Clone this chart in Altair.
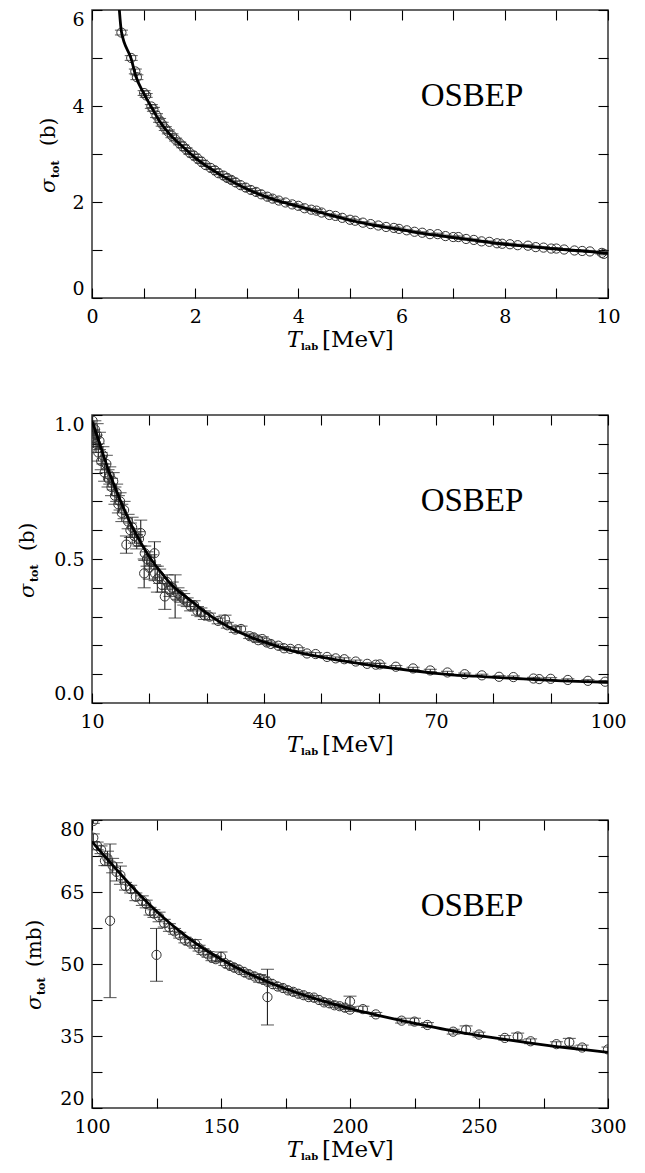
import altair as alt
import pandas as pd

# ---------------- data ----------------
# Panel 1 : 0-10 MeV, sigma in b
p1_x = [0.57, 0.76, 0.84, 0.87, 1.01, 1.05, 1.15, 1.19, 1.25, 1.31, 1.36, 1.42, 1.48, 1.55,
        1.62, 1.70, 1.76, 1.82, 1.90, 1.97, 2.05, 2.12, 2.20, 2.30, 2.38, 2.45, 2.55, 2.62,
        2.70, 2.78, 2.88, 2.98, 3.08, 3.18, 3.28, 3.40, 3.50, 3.62, 3.75, 3.88, 4.00, 4.12,
        4.25, 4.35, 4.45, 4.60, 4.72, 4.85, 5.00, 5.10, 5.25, 5.40, 5.55, 5.70, 5.85, 5.95,
        6.10, 6.25, 6.40, 6.55, 6.70, 6.85, 7.00, 7.10, 7.25, 7.40, 7.55, 7.70, 7.85, 7.95,
        8.10, 8.25, 8.45, 8.60, 8.75, 8.90, 9.00, 9.15, 9.35, 9.50, 9.65, 9.88, 9.92]
p1_y = [5.53, 5.00, 4.72, 4.60, 4.27, 4.22, 3.99, 3.93, 3.80, 3.70, 3.62, 3.53, 3.46, 3.38,
        3.30, 3.22, 3.16, 3.10, 3.02, 2.97, 2.90, 2.84, 2.77, 2.71, 2.66, 2.60, 2.55, 2.50,
        2.46, 2.41, 2.35, 2.30, 2.25, 2.21, 2.16, 2.11, 2.07, 2.03, 1.99, 1.95, 1.92, 1.87,
        1.84, 1.82, 1.78, 1.73, 1.71, 1.67, 1.63, 1.61, 1.57, 1.54, 1.51, 1.48, 1.46, 1.44,
        1.41, 1.38, 1.36, 1.33, 1.33, 1.29, 1.27, 1.27, 1.23, 1.21, 1.18, 1.17, 1.14, 1.13,
        1.12, 1.10, 1.09, 1.06, 1.05, 1.03, 1.03, 1.01, 0.99, 0.98, 0.97, 0.94, 0.92]
p1_err = [0.05, 0.05, 0.05, 0.05, 0.05, 0.04, 0.04, 0.04, 0.04, 0.04, 0.04, 0.04, 0.04, 0.04,
          0.03, 0.03, 0.03, 0.03, 0.03, 0.03, 0.03, 0.03, 0.03, 0.03, 0.03, 0.03, 0.03, 0.03,
          0.03, 0.03, 0.03, 0.03, 0.03, 0.03, 0.03, 0.03, 0.03, 0.03, 0.02, 0.02, 0.02, 0.02,
          0.02, 0.02, 0.02, 0.02, 0.02, 0.02, 0.02, 0.02, 0.02, 0.02, 0.02, 0.02, 0.02, 0.02,
          0.02, 0.02, 0.02, 0.02, 0.02, 0.02, 0.02, 0.02, 0.02, 0.02, 0.02, 0.02, 0.02, 0.02,
          0.02, 0.02, 0.02, 0.02, 0.02, 0.02, 0.02, 0.02, 0.02, 0.02, 0.02, 0.02, 0.02]
c1_x = [0.53, 0.57, 0.76, 0.85, 1.0, 1.15, 1.3, 1.5, 1.75, 2.0, 2.5, 3.0, 3.5, 4.0, 4.5,
        5.0, 5.5, 6.0, 6.5, 7.0, 7.5, 8.0, 8.5, 9.0, 9.5, 10.0]
c1_y = [6.0, 5.55, 4.98, 4.62, 4.27, 3.98, 3.70, 3.42, 3.16, 2.92, 2.56, 2.27, 2.06, 1.91,
        1.76, 1.62, 1.51, 1.42, 1.33, 1.26, 1.19, 1.12, 1.07, 1.02, 0.98, 0.93]

# Panel 2 : 10-100 MeV, sigma in b
p2_x = [10.1, 10.3, 10.5, 10.7, 10.9, 11.1, 11.3, 11.6, 11.9, 12.2, 12.5, 12.8, 13.1, 13.4,
        13.7, 14.0, 14.3, 14.6, 14.9, 15.2, 15.6, 16.0, 16.3, 16.7, 17.0, 17.4, 17.8, 18.2,
        18.5, 19.1, 19.2, 19.6, 20.0, 20.3, 20.9, 21.0, 21.4, 21.8, 22.2, 22.7, 23.1, 23.6,
        24.0, 24.5, 25.0, 25.5, 26.0, 26.6, 27.2, 27.8, 28.4, 29.0, 29.6, 30.5, 32.0, 33.2,
        33.6, 35.0, 36.0, 37.5, 38.2, 39.0, 39.7, 40.5, 41.2, 42.5, 43.5, 44.6, 46.0, 47.5,
        49.0, 51.0, 52.5, 54.0, 56.0, 58.0, 59.5, 60.2, 63.0, 66.0, 69.0, 72.0, 75.0, 78.0,
        81.0, 83.5, 87.0, 88.0, 90.0, 93.0, 96.5, 99.5]
p2_y = [0.98, 0.92, 0.95, 0.90, 0.93, 0.87, 0.91, 0.84, 0.86, 0.80, 0.83, 0.78, 0.79, 0.75,
        0.77, 0.72, 0.73, 0.69, 0.70, 0.66, 0.67, 0.55, 0.63, 0.60, 0.61, 0.58, 0.56, 0.57,
        0.59, 0.45, 0.52, 0.50, 0.47, 0.49, 0.52, 0.45, 0.43, 0.44, 0.41, 0.37, 0.42, 0.39,
        0.40, 0.37, 0.38, 0.37, 0.36, 0.35, 0.335, 0.34, 0.32, 0.315, 0.305, 0.30, 0.285, 0.29,
        0.27, 0.255, 0.257, 0.232, 0.228, 0.218, 0.222, 0.21, 0.205, 0.199, 0.19, 0.188, 0.187,
        0.172, 0.17, 0.16, 0.155, 0.152, 0.144, 0.136, 0.133, 0.134, 0.126, 0.12, 0.113,
        0.106, 0.10, 0.096, 0.091, 0.09, 0.085, 0.083, 0.084, 0.08, 0.077, 0.074]
p2_err = [0.04, 0.03, 0.03, 0.03, 0.04, 0.03, 0.03, 0.03, 0.03, 0.03, 0.03, 0.03, 0.03, 0.03,
          0.03, 0.03, 0.03, 0.03, 0.03, 0.03, 0.03, 0.03, 0.025, 0.025, 0.035, 0.025, 0.025,
          0.025, 0.045, 0.05, 0.025, 0.025, 0.04, 0.025, 0.04, 0.025, 0.045, 0.025, 0.025,
          0.045, 0.025, 0.02, 0.02, 0.075, 0.02, 0.02, 0.02, 0.015, 0.015, 0.015, 0.015, 0.015,
          0.015, 0.012, 0.01, 0.015, 0.01, 0.01, 0.01, 0.008, 0.008, 0.008, 0.008, 0.006,
          0.006, 0.006, 0.006, 0.006, 0.005, 0.005, 0.005, 0.005, 0.005, 0.005, 0.005, 0.004,
          0.004, 0.004, 0.004, 0.004, 0.004, 0.004, 0.004, 0.004, 0.004, 0.004, 0.004, 0.004,
          0.004, 0.004, 0.004, 0.004]
c2_x = [10, 11, 12, 13, 14, 15, 16, 17, 18, 19, 20, 21, 22, 23, 24, 25, 26.6, 28, 30, 32, 34,
        36, 38, 40, 42, 44.6, 48, 51.7, 55, 58.9, 62, 66, 70, 73.3, 77, 80.4, 84, 87.6, 92,
        96, 100]
c2_y = [0.98, 0.92, 0.86, 0.80, 0.75, 0.70, 0.655, 0.612, 0.575, 0.54, 0.508, 0.48, 0.455,
        0.43, 0.408, 0.39, 0.365, 0.343, 0.312, 0.285, 0.262, 0.243, 0.226, 0.212, 0.199,
        0.183, 0.167, 0.153, 0.142, 0.130, 0.122, 0.112, 0.103, 0.097, 0.093, 0.089, 0.085,
        0.081, 0.077, 0.074, 0.072]

# Panel 3 : 100-300 MeV, sigma in mb
p3_x = [100.5, 100.5, 102, 103.5, 105, 106, 107, 108, 109.5, 111, 113, 115, 117, 119.5, 121,
        122.5, 124, 125, 126, 128, 130, 132, 134, 136, 138, 140, 141.5, 143, 145, 146.5, 148,
        150, 151.5, 153.5, 155, 157, 159, 161, 163, 165, 166.5, 168, 168, 170, 172, 174, 176,
        178, 180, 182, 184, 186, 188, 190, 192, 194, 196, 198, 200, 200, 205, 210, 220, 225,
        230, 240, 245, 250, 260, 265, 270, 280, 285, 290, 300]
p3_y = [79.8, 76.3, 74.6, 73.8, 71.5, 72.0, 59.0, 70.5, 69.2, 68.5, 66.2, 65.6, 64.0, 63.2,
        62.5, 61.0, 60.5, 51.9, 59.8, 58.5, 57.6, 56.8, 56.0, 55.0, 54.5, 54.2, 53.3, 52.6,
        52.0, 51.3, 51.0, 51.5, 50.2, 49.6, 49.3, 48.8, 48.3, 47.8, 47.4, 47.0, 46.7, 43.1,
        46.3, 45.8, 45.3, 45.0, 44.5, 44.2, 43.8, 43.5, 43.1, 43.0, 42.5, 42.0, 41.8, 41.4,
        41.2, 40.9, 42.2, 40.5, 40.6, 39.5, 38.2, 38.0, 37.3, 35.9, 36.3, 35.3, 34.6, 34.9,
        33.9, 33.3, 33.7, 32.6, 32.2]
p3_err = [0.5, 0.8, 0.8, 0.8, 1.0, 1.5, 16.0, 1.5, 1.9, 1.9, 0.8, 0.8, 0.8, 1.0, 0.8, 0.8,
          0.8, 5.5, 1.0, 0.8, 0.8, 0.6, 0.6, 0.6, 0.6, 0.9, 0.6, 0.6, 0.6, 0.6, 0.6, 1.0, 0.5,
          0.5, 0.5, 0.5, 0.5, 0.5, 0.5, 0.8, 0.6, 5.8, 0.5, 0.4, 0.4, 0.4, 0.4, 0.4, 0.4, 0.4,
          0.4, 0.4, 0.4, 0.4, 0.4, 0.4, 0.4, 0.4, 1.1, 0.4, 0.6, 0.4, 0.5, 0.7, 0.5, 0.5, 0.8,
          0.5, 0.5, 0.7, 0.5, 0.5, 0.8, 0.5, 0.5]
c3_x = [100, 105, 110, 115, 120, 125, 130, 135, 140, 145, 150, 160, 170, 180, 190, 200, 210,
        220, 230, 240, 250, 260, 270, 280, 290, 300]
c3_y = [75.5, 72.4, 69.4, 66.4, 63.6, 61.0, 58.6, 56.4, 54.4, 52.6, 51.0, 48.2, 45.9, 43.9,
        42.2, 40.7, 39.4, 38.2, 37.1, 36.0, 35.1, 34.3, 33.5, 32.8, 32.2, 31.6]

# axis ticks / labels
x1_ticks = [0, 1, 2, 3, 4, 5, 6, 7, 8, 9, 10]
x1_labels = [0, 2, 4, 6, 8, 10]
y1_ticks = [0, 1, 2, 3, 4, 5, 6]
y1_labels = [0, 2, 4, 6]
x2_ticks = [10, 20, 30, 40, 50, 60, 70, 80, 90, 100]
x2_labels = [10, 40, 70, 100]
y2_ticks = [0.0, 0.1, 0.2, 0.3, 0.4, 0.5, 0.6, 0.7, 0.8, 0.9, 1.0]
y2_labels = [0.0, 0.5, 1.0]
x3_ticks = [100, 125, 150, 175, 200, 225, 250, 275, 300]
x3_labels = [100, 150, 200, 250, 300]
y3_ticks = [20, 27.5, 35, 42.5, 50, 57.5, 65, 72.5, 80]
y3_labels = [20, 35, 50, 65, 80]

W, H = 516, 288
SERIF = "DejaVu Serif"


def lab_expr(shown):
    return "indexof(%s, datum.value) >= 0 ? datum.label : ''" % str(list(shown))


def text_layer(txt, x, y, size, style="normal", weight="normal", angle=0, font=SERIF,
               align="left", baseline="alphabetic"):
    kw = dict(text=txt, font=font, fontSize=size, fontStyle=style, fontWeight=weight,
              align=align, baseline=baseline, color="#000")
    if angle:
        kw["angle"] = angle
    return alt.Chart(pd.DataFrame({"k": [0]})).mark_text(**kw).encode(
        x=alt.value(x), y=alt.value(y))


def panel(px, py, perr, cx, cy, xdom, xt, xl, ydom, yt, yl, yfmt, unit, ybase, ypos):
    pts = pd.DataFrame({"x": px, "y": py, "lo": [a - b for a, b in zip(py, perr)],
                        "hi": [a + b for a, b in zip(py, perr)]})
    cur = pd.DataFrame({"x": cx, "y": cy})
    xs = alt.Scale(domain=xdom, nice=False, zero=False)
    ys = alt.Scale(domain=ydom, nice=False, zero=False)

    common = dict(tickSize=10, offset=-10, domain=False, grid=False, title=None,
                  tickColor="#000", tickWidth=1.1)
    lab = dict(labelFont=SERIF, labelFontSize=19, labelColor="#000", labelOverlap=False)
    ax_b = alt.Axis(orient="bottom", values=xt, labelExpr=lab_expr(xl), format="d",
                    labelPadding=9, labelFlush=False, **common, **lab)
    ax_t = alt.Axis(orient="top", values=xt, labels=False, **common)
    ax_l = alt.Axis(orient="left", values=yt, labelExpr=lab_expr(yl), format=yfmt,
                    labelPadding=8, labelFlush=True, **common, **lab)
    ax_r = alt.Axis(orient="right", values=yt, labels=False, **common)

    base = alt.Chart(pts)
    bars = base.mark_rule(color="#222", strokeWidth=1.1, clip=True).encode(
        x=alt.X("x:Q", scale=xs, axis=None), y=alt.Y("lo:Q", scale=ys, axis=None), y2="hi:Q")
    cap_lo = base.mark_tick(orient="horizontal", size=13, thickness=1.1, color="#222",
                            clip=True).encode(
        x=alt.X("x:Q", scale=xs, axis=None), y=alt.Y("lo:Q", scale=ys, axis=None))
    cap_hi = base.mark_tick(orient="horizontal", size=13, thickness=1.1, color="#222",
                            clip=True).encode(
        x=alt.X("x:Q", scale=xs, axis=None), y=alt.Y("hi:Q", scale=ys, axis=None))
    circ = base.mark_point(shape="circle", filled=False, size=85, strokeWidth=1,
                           color="#333", opacity=1, clip=True).encode(
        x=alt.X("x:Q", scale=xs, axis=ax_t), y=alt.Y("y:Q", scale=ys, axis=ax_r))
    line = alt.Chart(cur).mark_line(color="#000", strokeWidth=2.8, clip=True,
                                    interpolate="monotone").encode(
        x=alt.X("x:Q", scale=xs, axis=ax_b), y=alt.Y("y:Q", scale=ys, axis=ax_l))

    osbep = text_layer("OSBEP", 380, 86, 33, font="Liberation Serif", align="center",
                       baseline="middle")
    xt_T = text_layer("T", 195, H + 49, 22, style="italic")
    xt_lab = text_layer("lab", 209, H + 52, 10, weight="bold")
    xt_u = text_layer("[MeV]", 230, H + 49, 23)
    yt_s = text_layer("σ", ybase, ypos[0], 21, style="italic", angle=270)
    yt_t = text_layer("tot", ybase + 4, ypos[1], 11, weight="bold", angle=270)
    yt_u = text_layer(unit, ybase, ypos[2], 20, angle=270)

    return alt.layer(bars, cap_lo, cap_hi, circ, line, osbep, xt_T, xt_lab, xt_u,
                     yt_s, yt_t, yt_u).resolve_axis(
        x="independent", y="independent").properties(width=W, height=H)


c1 = panel(p1_x, p1_y, p1_err, c1_x, c1_y, [0, 10], x1_ticks, x1_labels, [0, 6], y1_ticks,
           y1_labels, "d", "(b)", -37, (183, 168, 136))
c2 = panel(p2_x, p2_y, p2_err, c2_x, c2_y, [10, 100], x2_ticks, x2_labels, [0, 1], y2_ticks,
           y2_labels, ".1f", "(b)", -58, (183, 167, 136))
c3 = panel(p3_x, p3_y, p3_err, c3_x, c3_y, [100, 300], x3_ticks, x3_labels, [20, 80], y3_ticks,
           y3_labels, "d", "(mb)", -51, (190, 175, 147))

chart = alt.vconcat(c1, c2, c3, spacing=60).properties(
    padding={"left": 8, "top": 0, "right": 5, "bottom": 5}, background="white"
).configure_view(stroke="#333", strokeWidth=1.5)

chart.save("out.html", embed_options={"renderer": "svg", "actions": False})
